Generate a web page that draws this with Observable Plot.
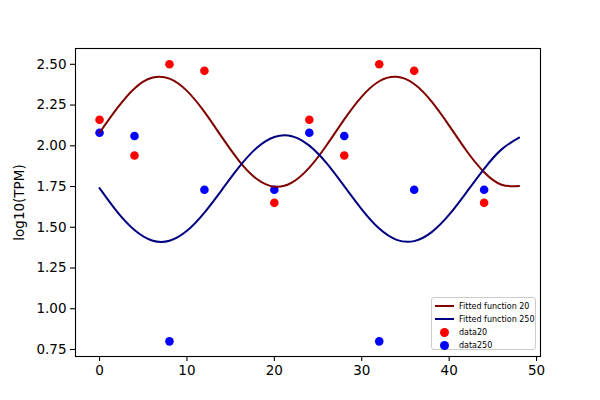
<!DOCTYPE html>
<html>
<head>
<meta charset="utf-8">
<script src="https://cdn.jsdelivr.net/npm/d3@7"></script>
<script src="https://cdn.jsdelivr.net/npm/@observablehq/plot@0.6"></script>
<style>
  html, body { margin: 0; padding: 0; background: #fff; }
  #wrap { position: relative; width: 600px; height: 400px; font-family: "DejaVu Sans", sans-serif; }
  #legend {
    position: absolute; left: 431px; top: 297px; width: 105px; height: 53px;
    border: 1px solid #cccccc; border-radius: 3px; background: rgba(255,255,255,0.8);
    box-sizing: border-box; font-size: 8px; color: #000;
  }
  .row { position: absolute; left: 0; height: 12px; display: flex; align-items: center; }
  .sw { width: 20px; margin-left: 2px; margin-right: 5px; display: flex; justify-content: center; align-items: center; }
  .ln { width: 19px; height: 2px; }
  .dt { width: 9px; height: 9px; border-radius: 50%; }
</style>
</head>
<body>
<div id="wrap"></div>
<script>
// scatter data (time, log10 TPM)
const times = [0, 4, 8, 12, 20, 24, 28, 32, 36, 44];
const data20 = [2.16, 1.94, 2.50, 2.46, 1.65, 2.16, 1.94, 2.50, 2.46, 1.65];
const data250 = [2.08, 2.06, 0.80, 1.73, 1.73, 2.08, 2.06, 0.80, 1.73, 1.73];

// fitted curves, values every 2 h
const fitTimes = [0,2,4,6,8,10,12,14,16,18,20,22,24,26,28,30,32,34,36,38,40,42,44,46,48];
const fit20 = [2.080,2.229,2.352,2.417,2.412,2.337,2.208,2.053,1.905,1.796,1.749,1.774,1.866,2.005,2.162,2.302,2.396,2.423,2.379,2.271,2.124,1.968,1.838,1.761,1.754];
const fit250 = [1.740,1.596,1.483,1.419,1.417,1.478,1.590,1.730,1.872,1.988,2.054,2.059,2.001,1.892,1.752,1.610,1.492,1.423,1.415,1.470,1.577,1.716,1.859,1.978,2.050];

const xTicks = [0, 10, 20, 30, 40, 50];
const yTicks = [0.75, 1.00, 1.25, 1.50, 1.75, 2.00, 2.25, 2.50];

const pts20 = times.map((t, i) => ({t, v: data20[i]}));
const pts250 = times.map((t, i) => ({t, v: data250[i]}));
const curve20 = fitTimes.map((t, i) => ({t, v: fit20[i]}));
const curve250 = fitTimes.map((t, i) => ({t, v: fit250[i]}));

const chart = Plot.plot({
  width: 600, height: 400,
  marginLeft: 75, marginRight: 60, marginTop: 48, marginBottom: 44,
  style: {fontFamily: "DejaVu Sans, sans-serif", fontSize: "13.5px", color: "#000", background: "transparent"},
  x: {domain: [-2.75, 50.45], ticks: xTicks, tickFormat: d => String(d)},
  y: {domain: [0.707, 2.597], ticks: yTicks, tickFormat: d3.format(".2f")},
  marks: [
    Plot.dot(pts20, {x: "t", y: "v", r: 4.3, fill: "#ff0000", stroke: "none"}),
    Plot.dot(pts250, {x: "t", y: "v", r: 4.3, fill: "#0000ff", stroke: "none"}),
    Plot.line(curve20, {x: "t", y: "v", stroke: "#800000", strokeWidth: 2, curve: "natural"}),
    Plot.line(curve250, {x: "t", y: "v", stroke: "#000080", strokeWidth: 2, curve: "natural"}),
    Plot.frame({stroke: "#000", strokeWidth: 1.1}),
    Plot.axisX({ticks: xTicks, tickFormat: d => String(d), tickSize: 5, tickPadding: 4, label: null, stroke: "#000", strokeWidth: 1.1}),
    Plot.axisY({ticks: yTicks, tickFormat: d3.format(".2f"), tickSize: 5, tickPadding: 4, label: "log10(TPM)", labelAnchor: "center", labelArrow: "none", labelOffset: 61, stroke: "#000", strokeWidth: 1.1})
  ]
});

const wrap = document.getElementById("wrap");
wrap.appendChild(chart);

const legendItems = [
  {label: "Fitted function 20", kind: "line", color: "#800000"},
  {label: "Fitted function 250", kind: "line", color: "#000080"},
  {label: "data20", kind: "dot", color: "#ff0000"},
  {label: "data250", kind: "dot", color: "#0000ff"}
];
const legend = document.createElement("div");
legend.id = "legend";
legendItems.forEach((it, i) => {
  const row = document.createElement("div");
  row.className = "row";
  row.style.top = (2 + i * 13.3) + "px";
  const sw = document.createElement("div");
  sw.className = "sw";
  const mk = document.createElement("div");
  mk.className = it.kind === "line" ? "ln" : "dt";
  mk.style.background = it.color;
  sw.appendChild(mk);
  const tx = document.createElement("span");
  tx.textContent = it.label;
  row.appendChild(sw);
  row.appendChild(tx);
  legend.appendChild(row);
});
wrap.appendChild(legend);
</script>
</body>
</html>
